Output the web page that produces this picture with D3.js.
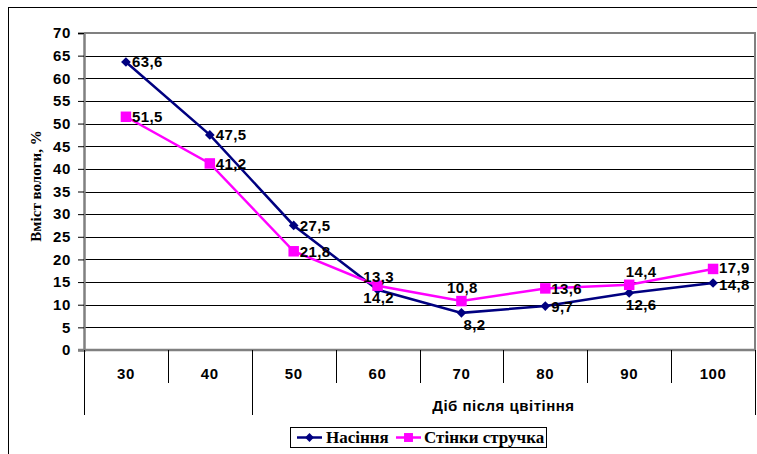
<!DOCTYPE html>
<html><head><meta charset="utf-8">
<script src="https://cdn.jsdelivr.net/npm/d3@7"></script>
<style>body{margin:0;background:#fff}svg{display:block}</style>
</head><body>
<script>
const categories = ["30","40","50","60","70","80","90","100"];
const seeds = [63.6,47.5,27.5,13.3,8.2,9.7,12.6,14.8];
const pods  = [51.5,41.2,21.8,14.2,10.8,13.6,14.4,17.9];
const seedLabels = ["63,6","47,5","27,5","13,3","8,2","9,7","12,6","14,8"];
const podLabels  = ["51,5","41,2","21,8","14,2","10,8","13,6","14,4","17,9"];
// label placement: r = right, a = above, b = below
const seedPos = ["r","r","r","a","b","r","b","r"];
const podPos  = ["r","r","r","b","a","r","a","r"];
const yTicks = d3.range(0, 71, 5);
const seriesNames = ["Насіння","Стінки стручка"];
const groupLabel = "Діб після цвітіння";
const yTitle = "Вміст вологи, %";

const W = 757, H = 454;
const SANS = "Arial, 'Liberation Sans', sans-serif";
const SERIF = "'Times New Roman', 'Liberation Serif', serif";
const svg = d3.select("body").append("svg").attr("width", W).attr("height", H);
// outer chart border
svg.append("rect").attr("x", 8.5).attr("y", 7.5).attr("width", W + 10).attr("height", H + 10)
  .attr("fill", "none").attr("stroke", "#000").attr("stroke-width", 1);

const L = 84, R = 755, T = 33, B = 350;
const x = d3.scaleBand().domain(categories).range([L, R]);
const y = d3.scaleLinear().domain([0, 70]).range([B, T]);

// gridlines
svg.append("g").selectAll("line").data(yTicks.filter(d => d > 0)).join("line")
  .attr("x1", L).attr("x2", R).attr("y1", d => Math.round(y(d)) + 0.5).attr("y2", d => Math.round(y(d)) + 0.5)
  .attr("stroke", "#000").attr("stroke-width", 1.2);

// plot border top/right in gray
svg.append("path").attr("d", `M${L},${T}H${R}V${B}`).attr("fill", "none").attr("stroke", "#808080").attr("stroke-width", 2);

// y axis
const yAxis = d3.axisLeft(y).tickValues(yTicks).tickSize(6).tickPadding(7).tickFormat(d3.format("d"));
const gy = svg.append("g").attr("transform", `translate(${L},0)`).call(yAxis);
gy.select(".domain").attr("stroke", "#808080").attr("stroke-width", 2.5);
gy.selectAll(".tick line").attr("stroke", "#000");
gy.selectAll("text").attr("font-family", SANS).attr("font-weight", "bold").attr("font-size", 15)
  .attr("letter-spacing", 0.6).attr("fill", "#000");

// x axis (multi-level)
const gx = svg.append("g");
gx.append("line").attr("x1", L - 6).attr("x2", R).attr("y1", B).attr("y2", B).attr("stroke", "#808080").attr("stroke-width", 2.5);
const tickXs = categories.map(c => x(c)).concat([R]);
gx.selectAll("line.t").data(tickXs).join("line").attr("class", "t")
  .attr("x1", d => Math.round(d) + 0.5).attr("x2", d => Math.round(d) + 0.5)
  .attr("y1", B).attr("y2", (d, i) => (i === 0 || i === 2 || i === 8) ? 415 : 383)
  .attr("stroke", "#000").attr("stroke-width", 1);
gx.selectAll("text.c").data(categories).join("text").attr("class", "c")
  .attr("x", d => x(d) + x.bandwidth() / 2).attr("y", 379).attr("text-anchor", "middle")
  .attr("font-family", SANS).attr("font-weight", "bold").attr("font-size", 15).attr("letter-spacing", 0.6)
  .text(d => d);
gx.append("text").attr("x", (x("50") + R) / 2).attr("y", 411).attr("text-anchor", "middle")
  .attr("font-family", SANS).attr("font-weight", "bold").attr("font-size", 15).attr("letter-spacing", 0.5)
  .text(groupLabel);

// y title
svg.append("text").attr("transform", `translate(41,186) rotate(-90)`).attr("text-anchor", "middle")
  .attr("font-family", SERIF).attr("font-weight", "bold").attr("font-size", 15)
  .text(yTitle);

const cx = c => x(c) + x.bandwidth() / 2;
const line = d3.line().x((d, i) => cx(categories[i])).y(d => y(d));
const colors = ["#000080", "#FF00FF"];

function drawSeries(vals, color, shape) {
  svg.append("path").datum(vals).attr("d", line).attr("fill", "none").attr("stroke", color).attr("stroke-width", 2.5);
  const sym = d3.symbol().type(shape === "diamond" ? d3.symbolDiamond2 : d3.symbolSquare).size(shape === "diamond" ? 60 : 110);
  svg.append("g").selectAll("path").data(vals).join("path")
    .attr("transform", (d, i) => `translate(${cx(categories[i])},${y(d)})`)
    .attr("d", sym).attr("fill", color);
}
drawSeries(seeds, colors[0], "diamond");
drawSeries(pods, colors[1], "square");

function drawLabels(vals, labels, pos, dyLast) {
  svg.append("g").selectAll("text").data(vals).join("text")
    .attr("x", (d, i) => {
      const px = cx(categories[i]);
      if (pos[i] === "r") return px + 6;
      return px + (i === 4 && pos[i] === "b" ? 13 : (i === 6 ? 12 : 1));
    })
    .attr("y", (d, i) => {
      const py = y(d);
      if (pos[i] === "r") return py + 5.5 + (i === vals.length - 1 ? dyLast : 0);
      if (pos[i] === "a") return py - 8;
      return py + 17;
    })
    .attr("text-anchor", (d, i) => pos[i] === "r" ? "start" : "middle")
    .attr("font-family", SANS).attr("font-weight", "bold").attr("font-size", 15).attr("letter-spacing", 0.4)
    .attr("fill", "#000")
    .text((d, i) => labels[i]);
}
drawLabels(seeds, seedLabels, seedPos, 1.5);
drawLabels(pods, podLabels, podPos, -1.5);

// legend
const lg = svg.append("g");
lg.append("rect").attr("x", 290.5).attr("y", 427.5).attr("width", 256).attr("height", 20)
  .attr("fill", "#fff").attr("stroke", "#000").attr("stroke-width", 1);
const legendItems = [
  {name: seriesNames[0], color: colors[0], shape: "diamond", lx: 297, tx: 326},
  {name: seriesNames[1], color: colors[1], shape: "square", lx: 396, tx: 424}
];
legendItems.forEach(it => {
  lg.append("line").attr("x1", it.lx).attr("x2", it.lx + 25).attr("y1", 437.5).attr("y2", 437.5)
    .attr("stroke", it.color).attr("stroke-width", 2.5);
  lg.append("path").attr("transform", `translate(${it.lx + 12.5},437.5)`)
    .attr("d", d3.symbol().type(it.shape === "diamond" ? d3.symbolDiamond2 : d3.symbolSquare).size(it.shape === "diamond" ? 50 : 80))
    .attr("fill", it.color);
  lg.append("text").attr("x", it.tx).attr("y", 443)
    .attr("font-family", SERIF).attr("font-weight", "bold").attr("font-size", 17)
    .text(it.name);
});
</script>
</body></html>
